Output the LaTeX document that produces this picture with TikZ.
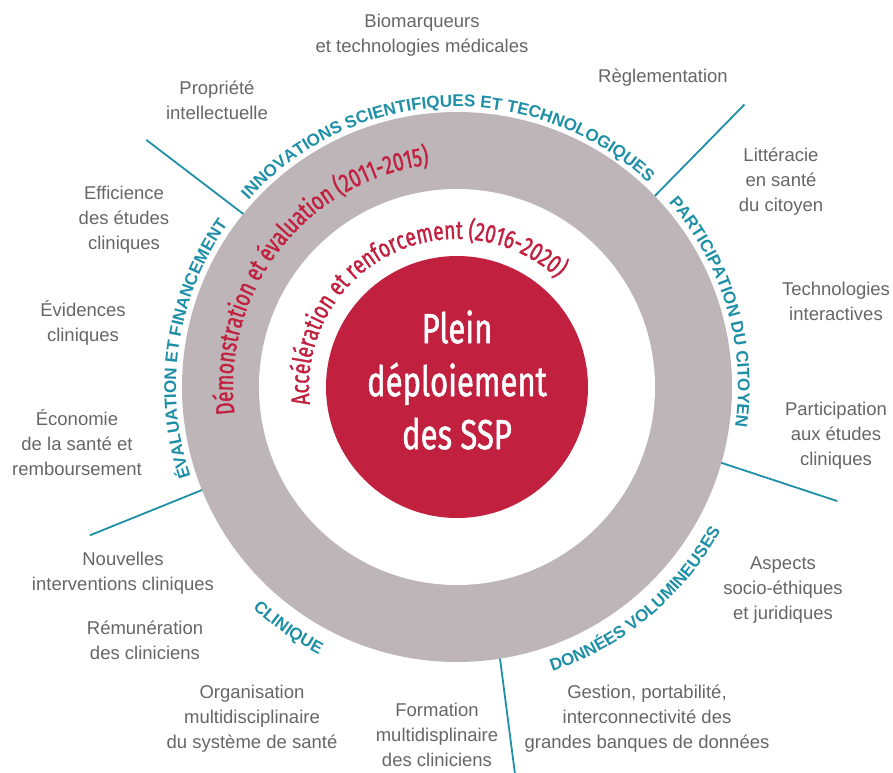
\documentclass[tikz,border=0pt]{standalone}
\usepackage{fontspec}
\setmainfont{Liberation Sans}
\newfontfamily\condfont[FakeStretch=0.74, FakeBold=1.2]{Fira Sans}
\usetikzlibrary{decorations.text}
\definecolor{ringgray}{HTML}{BEB5B8}
\definecolor{crimson}{HTML}{C1203F}
\definecolor{tealc}{HTML}{1E8FA6}
\definecolor{labelgray}{HTML}{666666}

% fonts for the curved captions
\newcommand\axisfont{\fontsize{17}{17}\selectfont\bfseries\color{tealc}}
\newcommand\phasefont{\condfont\fontsize{26}{26}\selectfont\color{crimson}}

\begin{document}
\begin{tikzpicture}[x=1pt,y=1pt,
  lbl/.style={align=center, text=labelgray, font=\fontsize{18.5}{25}\selectfont, inner sep=0},
  divider/.style={draw=tealc, line width=1.8pt},
  disc/.style={circle, inner sep=0, outer sep=0}]
\useasboundingbox (-457,-385) rectangle (436,387);

% rings and core
\node[disc, fill=ringgray, minimum size=550] (outer) at (0,0) {};
\node[disc, fill=white, minimum size=396] (inner) at (0,0) {};
\node[disc, fill=crimson, minimum size=262] (core) at (0,0) {};
\node[align=center, text=white, inner sep=0,
      font=\condfont\fontsize{42}{53}\selectfont] (coretext) at (0,7) {Plein\\déploiement\\des SSP};

% phase captions inside the rings
\path[decorate, decoration={text along path, text align=center,
  text={|\phasefont|Démonstration et évaluation (2011-2015)}}]
  (222:224) arc[start angle=222, end angle=62, radius=224];
\path[decorate, decoration={text along path, text align=center,
  text={|\phasefont|Accélération et renforcement (2016-2020)}}]
  (207:148) arc[start angle=207, end angle=27, radius=148];

% axis captions around the outer ring
\path[decorate, decoration={text along path, text align=center,
  text={|\axisfont|INNOVATIONS SCIENTIFIQUES ET TECHNOLOGIQUES}}]
  (162.5:280) arc[start angle=162.5, end angle=22.5, radius=280];
\path[decorate, decoration={text along path, text align=center,
  text={|\axisfont|PARTICIPATION DU CITOYEN}}]
  (66.5:281) arc[start angle=66.5, end angle=-33.5, radius=281];
\path[decorate, decoration={text along path, text align=center,
  text={|\axisfont|ÉVALUATION ET FINANCEMENT}}]
  (221.6:281) arc[start angle=221.6, end angle=121.6, radius=281];
\path[decorate, decoration={text along path, text align=center,
  text={|\axisfont|DONNÉES VOLUMINEUSES}}]
  (-100:300) arc[start angle=-100, end angle=0, radius=300];
\path[decorate, decoration={text along path, text align=center,
  text={|\axisfont|CLINIQUE}}]
  (205:301) arc[start angle=205, end angle=265, radius=301];

% dividers between the axes
\coordinate (d1) at (141.5:397);
\coordinate (d2) at (44.5:403);
\coordinate (d3) at (-16.7:397);
\coordinate (d4) at (-81.5:400);
\coordinate (d5) at (202:396);
\draw[divider] (outer.141.5) -- (d1);
\draw[divider] (outer.44.5) -- (d2);
\draw[divider] (outer.-16.7) -- (d3);
\draw[divider] (outer.-81.5) -- (d4);
\draw[divider] (outer.202) -- (d5);

% topics
\node[lbl] (bio) at (-35,352) {Biomarqueurs\\et technologies médicales};
\node[lbl] (pi) at (-240,287) {Propriété\\intellectuelle};
\node[lbl] (regl) at (206,309) {Règlementation};
\node[lbl] (litt) at (324,205) {Littéracie\\en santé\\du citoyen};
\node[lbl] (techint) at (379,86) {Technologies\\interactives};
\node[lbl] (partic) at (379,-49) {Participation\\aux études\\cliniques};
\node[lbl] (aspects) at (326,-203) {Aspects\\socio-éthiques\\et juridiques};
\node[lbl] (gestion) at (190,-332) {Gestion, portabilité,\\interconnectivité des\\grandes banques de données};
\node[lbl] (formation) at (-20,-348) {Formation\\multidisplinaire\\des cliniciens};
\node[lbl] (organisation) at (-205,-332) {Organisation\\multidisciplinaire\\du système de santé};
\node[lbl] (remun) at (-312,-253) {Rémunération\\des cliniciens};
\node[lbl] (nouvelles) at (-334,-186) {Nouvelles\\interventions cliniques};
\node[lbl] (economie) at (-380,-56) {Économie\\de la santé et\\remboursement};
\node[lbl] (evidences) at (-374,64) {Évidences\\cliniques};
\node[lbl] (efficience) at (-333,167) {Efficience\\des études\\cliniques};
\end{tikzpicture}
\end{document}
